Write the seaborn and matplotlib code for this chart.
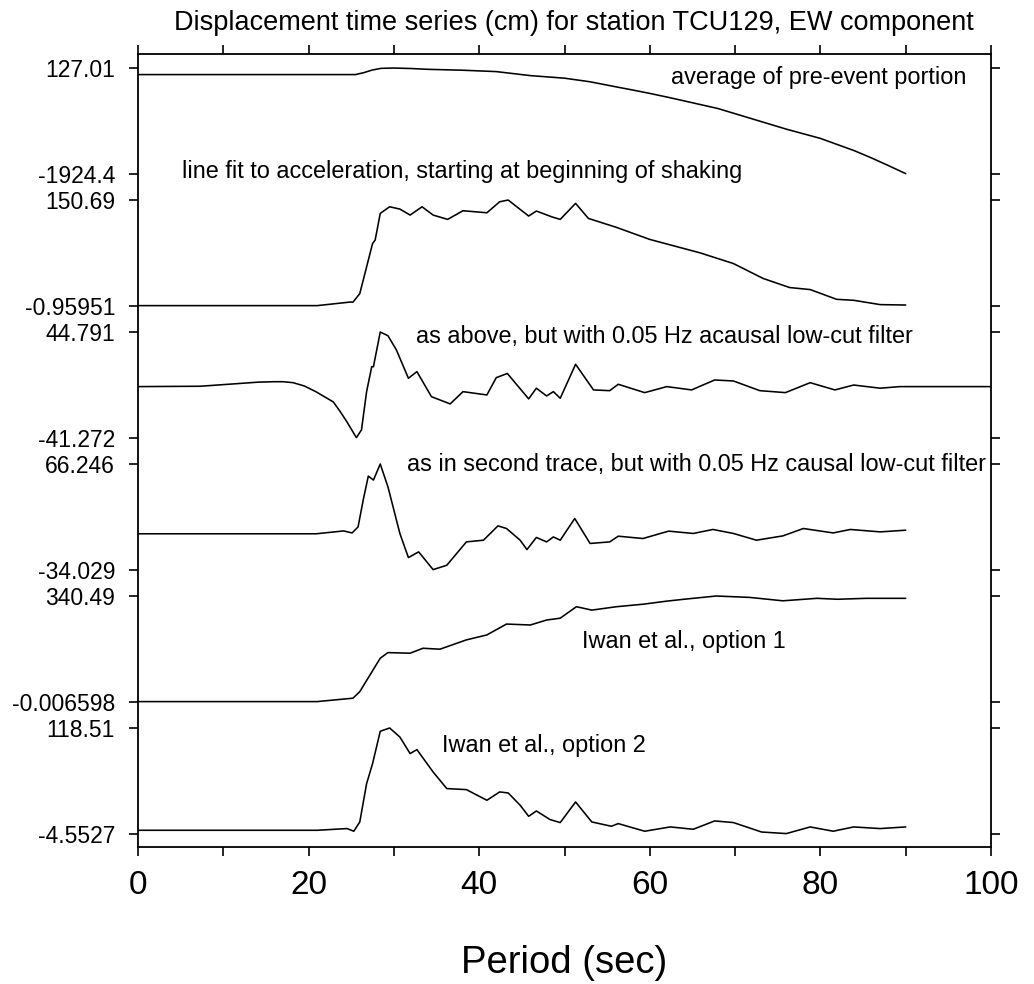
import numpy as np
import pandas as pd
import matplotlib
matplotlib.use("Agg")
import matplotlib.pyplot as plt
import seaborn as sns

# ---------------- data (cm vs seconds) ----------------
trace_names = [
    "average of pre-event portion",
    "line fit to acceleration, starting at beginning of shaking",
    "as above, but with 0.05 Hz acausal low-cut filter",
    "as in second trace, but with 0.05 Hz causal low-cut filter",
    "Iwan et al., option 1",
    "Iwan et al., option 2",
]

trace_max = [127.01, 150.69, 44.791, 66.246, 340.49, 118.51]
trace_min = [-1924.4, -0.95951, -41.272, -34.029, -0.006598, -4.5527]
max_labels = ["127.01", "150.69", "44.791", "66.246", "340.49", "118.51"]
min_labels = ["-1924.4", "-0.95951", "-41.272", "-34.029", "-0.006598", "-4.5527"]

t1 = [0, 25.5, 26.5, 27.5, 28.5, 30, 32, 34, 38, 42, 46, 50, 53, 56, 58, 60, 62, 64, 66, 68,
      70, 72, 74, 76, 78, 80, 82, 84, 86, 88, 90]
v1 = [0, 0, 39, 90, 121, 127.01, 118, 102, 85, 58, -20, -70, -140, -237, -300, -366, -436,
      -510, -585, -660, -760, -860, -960, -1060, -1150, -1240, -1360, -1480, -1620, -1770,
      -1924.4]

t2 = [0, 21, 24.9, 25.2, 26, 26.8, 27.5, 27.8, 28.4, 29.5, 30.7, 31.9, 33.3, 34.6, 36.3, 38.1,
      40.9, 42.4, 43.4, 45.8, 46.7, 48.5, 49.5, 51.3, 52.8, 56.1, 60, 65.9, 69.8, 73.3, 76.4,
      78.8, 81.9, 83.9, 87, 90]
v2 = [-0.95951, -0.95951, 4.2, 4.0, 16.3, 54.7, 88.3, 93.1, 131.5, 141.0, 137.7, 129.1, 141.0,
      129.1, 122.9, 135.3, 132.4, 148.2, 150.69, 127.7, 134.9, 126.6, 122.9, 145.9, 124.3, 111.4,
      94.1, 74.8, 59.5, 38.0, 25.0, 22.1, 8.1, 6.7, 0.5, -0.1]

t3 = [0, 7.3, 12, 14, 15.9, 17, 18.2, 19.5, 20.9, 21.5, 22.9, 23.7, 24.5, 25.6, 26.2, 26.8,
      27.4, 27.6, 28.4, 29.3, 30.3, 31.7, 32.7, 34.4, 36.6, 38.1, 40.9, 42.0, 43.3, 45.8, 46.7,
      47.9, 48.7, 49.5, 51.3, 53.4, 55.3, 56.3, 59.4, 62, 64.9, 67.6, 69.8, 72.9, 75.9, 78.8,
      81.7, 83.9, 87, 89.3, 100]
v3 = [0.3, 0.6, 2.9, 3.9, 4.3, 4.3, 3.5, 0.8, -4.0, -6.5, -12.2, -20.0, -28.5, -41.272, -35.0,
      -3.8, 16.5, 16.5, 44.791, 41.8, 30.1, 7.1, 12.5, -7.9, -13.8, -3.8, -6.5, 7.6, 11.0, -9.7,
      -1.0, -7.3, -3.8, -9.2, 18.5, -2.4, -3.0, 2.2, -4.6, 0.3, -2.4, 5.7, 4.9, -3.0, -4.6, 3.5,
      -2.4, 1.6, -1.0, 0.3, 0.3]

t4 = [0, 20.9, 24.1, 25.1, 25.8, 26.4, 27, 27.6, 28.4, 29.3, 30.7, 31.7, 32.9, 34.6, 36.2, 38.5,
      40.5, 42.2, 43.2, 44.8, 45.6, 46.7, 47.9, 48.7, 49.5, 51.2, 53, 55.3, 56.3, 59.2, 62.2,
      65.1, 67.4, 69.8, 72.5, 75.6, 78, 81.5, 83.5, 87, 90]
v4 = [0, 0, 2.7, 0.8, 6.5, 32.0, 54.8, 51.0, 66.246, 44.6, 0.3, -22.6, -17.2, -34.029, -29.9,
      -7.7, -6.1, 7.5, 5.0, -6.1, -15.0, -3.5, -7.7, -3.0, -6.1, 14.5, -9.2, -7.7, -2.3, -4.5,
      2.5, 0.3, 4.1, 0.3, -6.1, -2.0, 5.0, 0.8, 4.1, 1.8, 3.4]

t5 = [0, 21, 25.2, 26, 27.2, 28.4, 29.3, 31.9, 33.4, 35.4, 38.5, 40.9, 43.2, 46, 47.9, 49.5,
      51.4, 53.2, 56.1, 59.2, 62, 64, 67.8, 71.7, 75.6, 79.6, 82, 85.4, 90]
v5 = [0, 0, 11, 32, 86, 140, 158, 156, 172, 169, 199, 215, 250, 247, 263, 269, 306, 295, 306,
      314, 324, 330, 340.49, 336, 325, 333, 330, 333, 333]

t6 = [0, 21, 24.5, 25.3, 26, 26.8, 27.5, 28.4, 29.5, 30.7, 31.9, 32.7, 34.6, 36.2, 38.5, 40.9,
      42.4, 43.4, 44.8, 45.8, 46.7, 48.3, 49.5, 51.3, 53.2, 55.5, 56.3, 59.4, 62.4, 65.1, 67.6,
      69.8, 73.1, 76, 78.8, 81.5, 83.9, 87, 90]
v6 = [-0.7, -0.7, 1.3, -1.8, 9.0, 53.7, 77.0, 114.7, 118.51, 108.0, 88.7, 93.3, 67.2, 47.9,
      46.7, 34.3, 44.0, 42.8, 28.5, 15.6, 21.8, 11.8, 8.3, 32.3, 9.0, 4.0, 7.1, -1.8, 3.2, 0.5,
      10.2, 8.3, -2.7, -4.5527, 3.2, -1.8, 3.2, 1.3, 3.2]

times = [t1, t2, t3, t4, t5, t6]
values = [v1, v2, v3, v4, v5, v6]

x_ticks_major = [0, 20, 40, 60, 80, 100]
x_ticks_minor = [10, 30, 50, 70, 90]

title = "Displacement time series (cm) for station TCU129, EW component"
xlabel = "Period (sec)"

# ---------------- style ----------------
sns.set_theme(style="ticks")
plt.rcParams["font.family"] = ["Liberation Sans", "DejaVu Sans"]
plt.rcParams["text.color"] = "black"
plt.rcParams["axes.labelcolor"] = "black"
plt.rcParams["xtick.color"] = "black"
plt.rcParams["ytick.color"] = "black"

fig = plt.figure(figsize=(10.34, 9.84), dpi=100)
ax = fig.add_axes([138 / 1034, 1 - 847 / 984, (991 - 138) / 1034, (847 - 54) / 984])

STEP = 1.25
n = len(values)
rows = []
for i, (t, v) in enumerate(zip(times, values)):
    off = STEP * (n - 1 - i)
    lo, hi = trace_min[i], trace_max[i]
    for tt, vv in zip(t, v):
        rows.append({"t": tt, "y": off + (vv - lo) / (hi - lo), "trace": trace_names[i]})
df = pd.DataFrame(rows)

for name in trace_names:
    sub = df[df["trace"] == name]
    sns.lineplot(data=sub, x="t", y="y", ax=ax, color="black", lw=1.15,
                 estimator=None, sort=False, legend=False)

# y ticks at each trace's max & min
yticks, ylabels = [], []
for i in range(n):
    off = STEP * (n - 1 - i)
    yticks += [off + 1, off]
    ylabels += [max_labels[i], min_labels[i]]
ax.set_yticks(yticks)
ax.set_yticklabels(ylabels)

ax.set_xlim(0, 100)
ax.set_ylim(-0.127, STEP * (n - 1) + 1 + 0.133)
ax.set_xticks(x_ticks_major)
ax.set_xticklabels([str(x) for x in x_ticks_major])
ax.set_xticks(x_ticks_minor, minor=True)

ax.tick_params(axis="y", which="both", left=True, right=True, direction="out",
               length=6.5, width=1.2, labelsize=16.5, pad=10, colors="black")
ax.tick_params(axis="x", which="both", top=True, bottom=True, direction="out",
               length=6.5, width=1.2, labelsize=24, pad=10, colors="black")
for s in ax.spines.values():
    s.set_visible(True)
    s.set_color("black")
    s.set_linewidth(1.3)

ax.set_xlabel(xlabel, fontsize=27.5, labelpad=32, color="black")
ax.set_ylabel("")
ax.grid(False)

# annotations (x in sec, y in stacked units)
def ypos(px):
    return (833.3 - px) / 105.56

FS = 16.9
ax.text(97.1, ypos(77.7), trace_names[0], ha="right", va="center", fontsize=FS)
ax.text(5.1, ypos(171.7), trace_names[1], ha="left", va="center", fontsize=FS)
ax.text(32.6, ypos(336.7), trace_names[2], ha="left", va="center", fontsize=FS)
ax.text(31.5, ypos(464), trace_names[3], ha="left", va="center", fontsize=FS)
ax.text(52.0, ypos(641.7), trace_names[4], ha="left", va="center", fontsize=FS)
ax.text(35.6, ypos(745), trace_names[5], ha="left", va="center", fontsize=FS)

fig.text(574 / 1034, 1 - 30 / 984, title, ha="center", va="baseline", fontsize=19.5)

fig.savefig("out.png", dpi=100, facecolor="white")
